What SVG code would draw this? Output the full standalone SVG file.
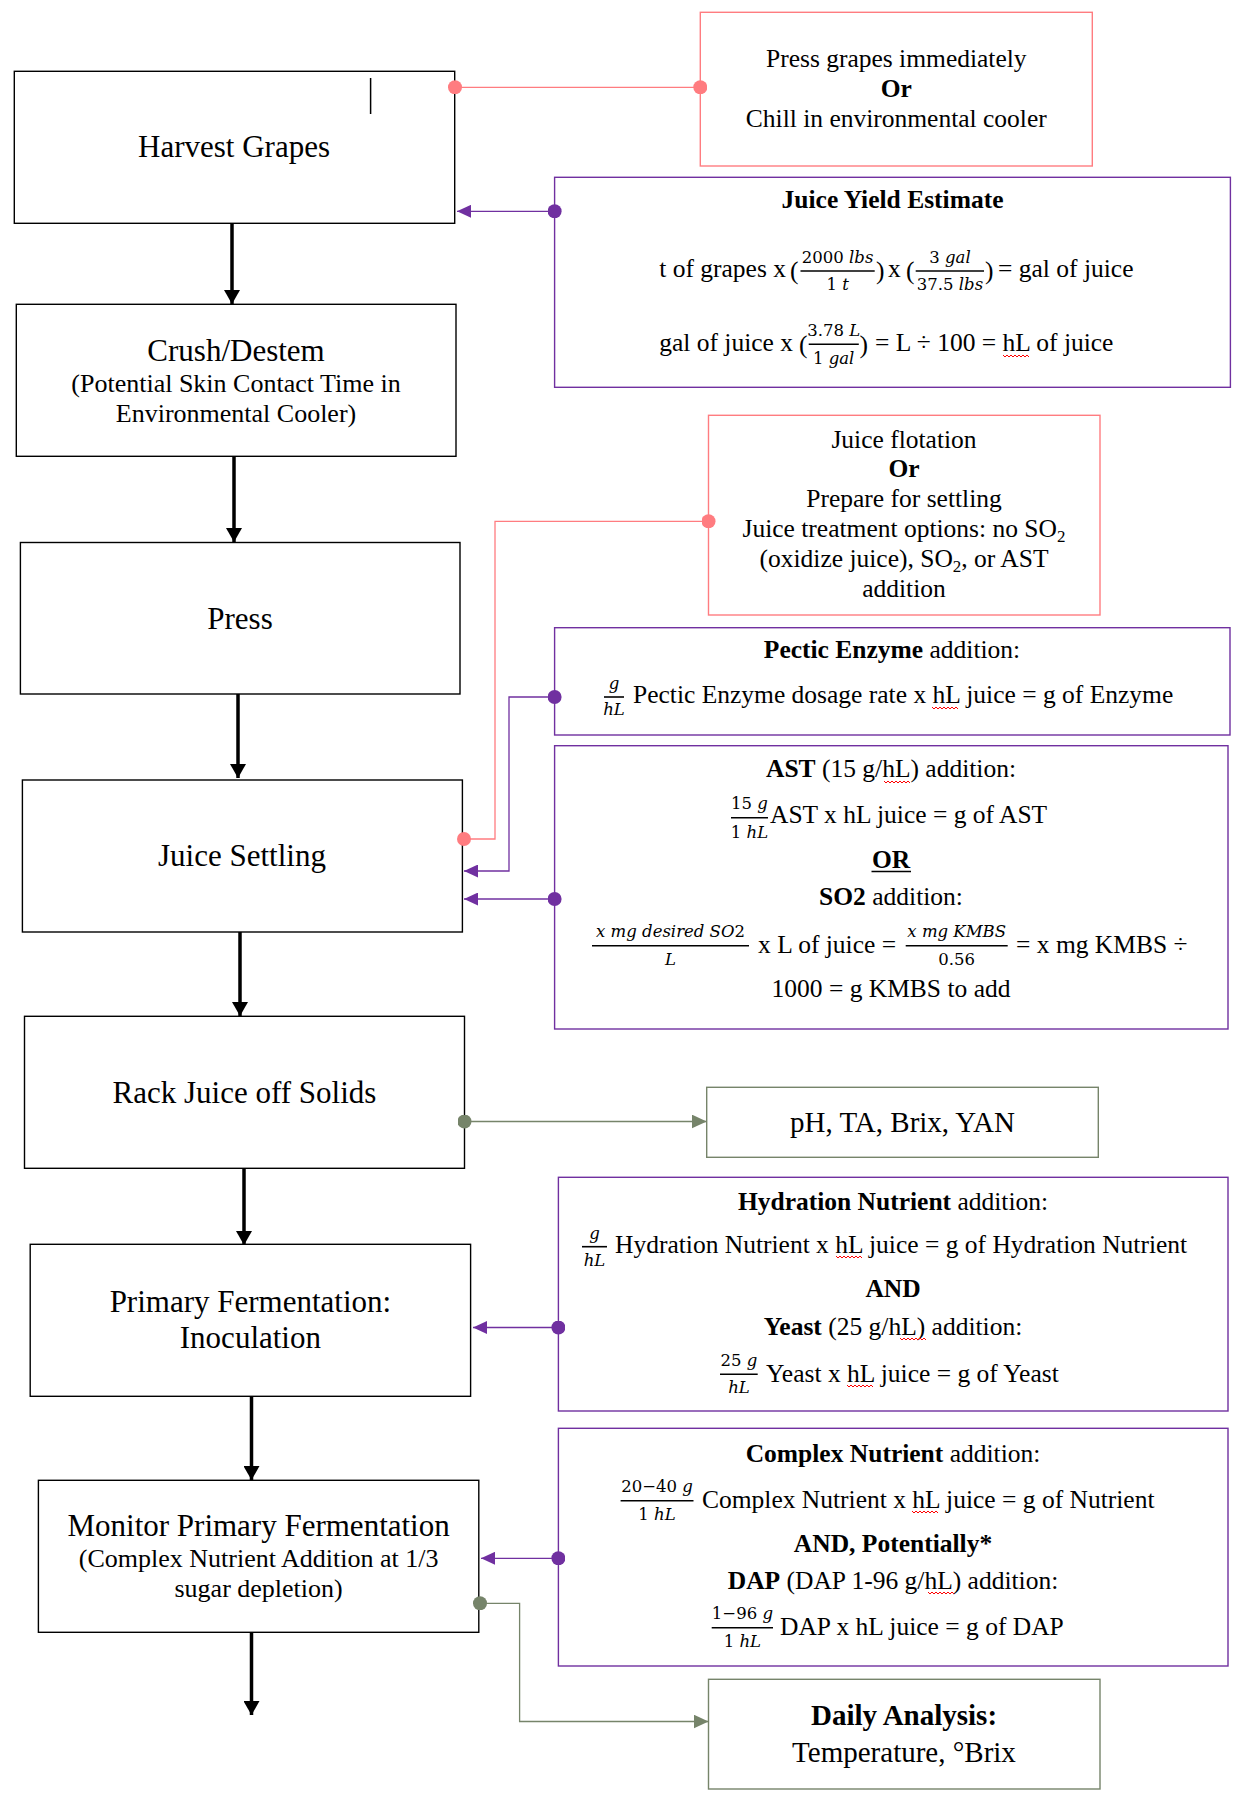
<svg xmlns="http://www.w3.org/2000/svg" width="1254" height="1802" viewBox="0 0 1254 1802">
<defs>
<style>
text{font-family:"Liberation Serif","Times New Roman",serif;fill:#000}
.ti{font-size:31px;text-anchor:middle}
.st{font-size:26px;text-anchor:middle}
.bd{font-size:25.5px}
.mid{text-anchor:middle}
.bo{font-weight:bold}
.m{font-family:"DejaVu Serif",serif;font-size:16.5px;font-style:italic;text-anchor:middle}
.n{font-style:normal}
.node{fill:#fff;stroke:#000;stroke-width:1.4}
.pk{fill:#fff;stroke:#FF7C80;stroke-width:1.4}
.pu{fill:#fff;stroke:#7030A0;stroke-width:1.4}
.gr{fill:#fff;stroke:#76846A;stroke-width:1.4}
.fl{stroke:#000;stroke-width:1.6}
.sq{fill:none;stroke:#FF0000;stroke-width:1}
.flow{stroke:#000;stroke-width:3.5;fill:none}
.cp{stroke:#FF7C80;stroke-width:1.3;fill:none}
.cu{stroke:#7030A0;stroke-width:1.3;fill:none}
.cg{stroke:#76846A;stroke-width:1.3;fill:none}
</style>
<marker id="ab" markerUnits="userSpaceOnUse" markerWidth="15" markerHeight="16" viewBox="0 0 15 16" refX="14" refY="8" orient="auto"><path d="M0,0 L14,8 L0,16 Z" fill="#000"/></marker>
<marker id="au" markerUnits="userSpaceOnUse" markerWidth="14" markerHeight="13" viewBox="0 0 14 13" refX="14" refY="6.5" orient="auto"><path d="M0,0 L14,6.5 L0,13 Z" fill="#7030A0"/></marker>
<marker id="ag" markerUnits="userSpaceOnUse" markerWidth="15" markerHeight="14" viewBox="0 0 15 14" refX="15" refY="7" orient="auto"><path d="M0,0 L15,7 L0,14 Z" fill="#76846A"/></marker>
<marker id="dp" markerUnits="userSpaceOnUse" markerWidth="14" markerHeight="14" viewBox="0 0 14 14" refX="7" refY="7"><circle cx="7" cy="7" r="7" fill="#FF7C80"/></marker>
<marker id="du" markerUnits="userSpaceOnUse" markerWidth="14" markerHeight="14" viewBox="0 0 14 14" refX="7" refY="7"><circle cx="7" cy="7" r="7" fill="#7030A0"/></marker>
<marker id="dg" markerUnits="userSpaceOnUse" markerWidth="14" markerHeight="14" viewBox="0 0 14 14" refX="7" refY="7"><circle cx="7" cy="7" r="7" fill="#76846A"/></marker>
<path id="sqg" class="sq" d="M0,0 l2,2 l2,-2 l2,2 l2,-2 l2,2 l2,-2 l2,2 l2,-2 l2,2 l2,-2 l2,2 l2,-2 l2,2"/>
</defs>

<g id="harvest">
<rect class="node" x="14.3" y="71.3" width="440.4" height="152"/>
<line x1="370.6" y1="78" x2="370.6" y2="114" stroke="#000" stroke-width="1.5"/>
<text class="ti" x="234" y="157">Harvest Grapes</text>
</g>
<g id="crush">
<rect class="node" x="16.3" y="304.3" width="439.7" height="152"/>
<text class="ti" x="236" y="361">Crush/Destem</text>
<text class="st" x="236" y="392">(Potential Skin Contact Time in</text>
<text class="st" x="236" y="422">Environmental Cooler)</text>
</g>
<g id="press">
<rect class="node" x="20.4" y="542.5" width="439.6" height="151.5"/>
<text class="ti" x="240" y="629">Press</text>
</g>
<g id="juice-settling">
<rect class="node" x="22.4" y="780" width="440" height="152"/>
<text class="ti" x="242" y="866">Juice Settling</text>
</g>
<g id="rack">
<rect class="node" x="24.5" y="1016.3" width="440" height="152"/>
<text class="ti" x="244.5" y="1103">Rack Juice off Solids</text>
</g>
<g id="primary-fermentation">
<rect class="node" x="30.2" y="1244.3" width="440.4" height="152"/>
<text class="ti" x="250.4" y="1312">Primary Fermentation:</text>
<text class="ti" x="250.4" y="1348">Inoculation</text>
</g>
<g id="monitor">
<rect class="node" x="38.4" y="1480.3" width="440.4" height="152"/>
<text class="ti" x="258.6" y="1536">Monitor Primary Fermentation</text>
<text class="st" x="258.6" y="1567">(Complex Nutrient Addition at 1/3</text>
<text class="st" x="258.6" y="1597">sugar depletion)</text>
</g>

<g id="press-or-chill">
<rect class="pk" x="700.3" y="12.3" width="392" height="153.7"/>
<text class="bd mid" x="896.3" y="67">Press grapes immediately</text>
<text class="bd mid bo" x="896.3" y="97">Or</text>
<text class="bd mid" x="896.3" y="127">Chill in environmental cooler</text>
</g>

<g id="juice-yield">
<rect class="pu" x="554.6" y="177.3" width="675.8" height="210"/>
<text class="bd mid bo" x="892.5" y="208">Juice Yield Estimate</text>
<text class="bd" x="786" y="277" text-anchor="end">t of grapes x</text>
<text class="bd" x="790" y="279" font-size="28">(</text>
<line class="fl" x1="800.5" y1="271" x2="874.7" y2="271"/>
<text class="m" x="837.6" y="263"><tspan class="n">2000 </tspan>lbs</text>
<text class="m" x="837.6" y="290"><tspan class="n">1 </tspan>t</text>
<text class="bd" x="876" y="279" font-size="28">)</text>
<text class="bd" x="888" y="277">x</text>
<text class="bd" x="906" y="279" font-size="28">(</text>
<line class="fl" x1="915.7" y1="271" x2="984" y2="271"/>
<text class="m" x="950" y="263"><tspan class="n">3 </tspan>gal</text>
<text class="m" x="950" y="290"><tspan class="n">37.5 </tspan>lbs</text>
<text class="bd" x="985" y="279" font-size="28">)</text>
<text class="bd" x="998" y="277">= gal of juice</text>
<text class="bd" x="793" y="351" text-anchor="end">gal of juice x</text>
<text class="bd" x="799" y="353" font-size="28">(</text>
<line class="fl" x1="808.7" y1="344.3" x2="858.8" y2="344.3"/>
<text class="m" x="833.7" y="336"><tspan class="n">3.78 </tspan>L</text>
<text class="m" x="833.7" y="364"><tspan class="n">1 </tspan>gal</text>
<text class="bd" x="859.5" y="353" font-size="28">)</text>
<text class="bd" x="875" y="351">= L ÷ 100 = hL of juice</text>
<use href="#sqg" x="1003" y="355"/>
</g>

<g id="flotation-or-settling">
<rect class="pk" x="708.5" y="415.3" width="391.5" height="199.7"/>
<text class="bd mid" x="904" y="448">Juice flotation</text>
<text class="bd mid bo" x="904" y="477">Or</text>
<text class="bd mid" x="904" y="507">Prepare for settling</text>
<text class="bd mid" x="904" y="537">Juice treatment options: no SO<tspan font-size="17" dy="5">2</tspan></text>
<text class="bd mid" x="904" y="567">(oxidize juice), SO<tspan font-size="17" dy="5">2</tspan><tspan dy="-5">, or AST</tspan></text>
<text class="bd mid" x="904" y="597">addition</text>
</g>

<g id="pectic-enzyme">
<rect class="pu" x="554.6" y="627.7" width="675.4" height="107.3"/>
<text class="bd mid" x="892" y="658"><tspan class="bo">Pectic Enzyme</tspan> addition:</text>
<line class="fl" x1="604" y1="697" x2="624" y2="697"/>
<text class="m" x="614" y="689">g</text>
<text class="m" x="614" y="715">hL</text>
<text class="bd" x="633" y="703">Pectic Enzyme dosage rate x hL juice = g of Enzyme</text>
<use href="#sqg" x="932" y="707"/>
</g>

<g id="ast-so2">
<rect class="pu" x="554.6" y="745.7" width="673.4" height="283.3"/>
<text class="bd mid" x="891" y="777"><tspan class="bo">AST</tspan> (15 g/hL) addition:</text>
<use href="#sqg" x="884" y="781"/>
<line class="fl" x1="731" y1="817.7" x2="768" y2="817.7"/>
<text class="m" x="749.5" y="809"><tspan class="n">15 </tspan>g</text>
<text class="m" x="749.5" y="838"><tspan class="n">1 </tspan>hL</text>
<text class="bd" x="770" y="823">AST x hL juice = g of AST</text>
<text class="bd mid bo" x="891" y="868">OR</text>
<line x1="871.5" y1="871.5" x2="911" y2="871.5" stroke="#000" stroke-width="1.5"/>
<text class="bd mid" x="891" y="905"><tspan class="bo">SO2</tspan> addition:</text>
<line class="fl" x1="592" y1="945.7" x2="749" y2="945.7"/>
<text class="m" x="670.5" y="937">x mg desired SO<tspan class="n">2</tspan></text>
<text class="m" x="670.5" y="965">L</text>
<text class="bd" x="758" y="953">x L of juice =</text>
<line class="fl" x1="905.7" y1="945.7" x2="1007.7" y2="945.7"/>
<text class="m" x="956.7" y="937">x mg KMBS</text>
<text class="m" x="956.7" y="965"><tspan class="n">0.56</tspan></text>
<text class="bd" x="1016" y="953">= x mg KMBS ÷</text>
<text class="bd mid" x="891" y="997">1000 = g KMBS to add</text>
</g>

<g id="ph-ta-brix-yan">
<rect class="gr" x="706.7" y="1087.3" width="391.6" height="70"/>
<text class="mid" x="902.5" y="1132" font-size="29">pH, TA, Brix, YAN</text>
</g>

<g id="hydration-yeast">
<rect class="pu" x="558.4" y="1177.3" width="669.6" height="233.7"/>
<text class="bd mid" x="893" y="1210"><tspan class="bo">Hydration Nutrient</tspan> addition:</text>
<line class="fl" x1="582" y1="1246.7" x2="607" y2="1246.7"/>
<text class="m" x="594.5" y="1239">g</text>
<text class="m" x="594.5" y="1266">hL</text>
<text class="bd" x="615" y="1253">Hydration Nutrient x hL juice = g of Hydration Nutrient</text>
<use href="#sqg" x="836" y="1256"/>
<text class="bd mid bo" x="893" y="1297">AND</text>
<text class="bd mid" x="893" y="1335"><tspan class="bo">Yeast</tspan> (25 g/hL) addition:</text>
<use href="#sqg" x="900" y="1338"/>
<line class="fl" x1="720" y1="1374.3" x2="757.7" y2="1374.3"/>
<text class="m" x="739" y="1366"><tspan class="n">25 </tspan>g</text>
<text class="m" x="739" y="1393">hL</text>
<text class="bd" x="766" y="1382">Yeast x hL juice = g of Yeast</text>
<use href="#sqg" x="847" y="1385"/>
</g>

<g id="complex-dap">
<rect class="pu" x="558.4" y="1428.3" width="669.6" height="237.7"/>
<text class="bd mid" x="893" y="1462"><tspan class="bo">Complex Nutrient</tspan> addition:</text>
<line class="fl" x1="620.6" y1="1500.7" x2="693.5" y2="1500.7"/>
<text class="m" x="657" y="1492"><tspan class="n">20−40 </tspan>g</text>
<text class="m" x="657" y="1520"><tspan class="n">1 </tspan>hL</text>
<text class="bd" x="702" y="1508">Complex Nutrient x hL juice = g of Nutrient</text>
<use href="#sqg" x="912" y="1511"/>
<text class="bd mid bo" x="893" y="1552">AND, Potentially*</text>
<text class="bd mid" x="893" y="1589"><tspan class="bo">DAP</tspan> (DAP 1-96 g/hL) addition:</text>
<use href="#sqg" x="928" y="1592"/>
<line class="fl" x1="711.7" y1="1627.7" x2="773" y2="1627.7"/>
<text class="m" x="742.4" y="1619"><tspan class="n">1−96 </tspan>g</text>
<text class="m" x="742.4" y="1647"><tspan class="n">1 </tspan>hL</text>
<text class="bd" x="780" y="1635">DAP x hL juice = g of DAP</text>
</g>

<g id="daily-analysis">
<rect class="gr" x="708.5" y="1679.3" width="391.5" height="109.7"/>
<text class="mid bo" x="904" y="1725" font-size="29">Daily Analysis:</text>
<text class="mid" x="904" y="1762" font-size="29">Temperature, °Brix</text>
</g>

<g id="connectors">
<path class="flow" marker-end="url(#ab)" d="M232,223 V304"/>
<path class="flow" marker-end="url(#ab)" d="M234,456 V542"/>
<path class="flow" marker-end="url(#ab)" d="M238,694 V778"/>
<path class="flow" marker-end="url(#ab)" d="M240,932 V1016"/>
<path class="flow" marker-end="url(#ab)" d="M244,1168 V1245"/>
<path class="flow" marker-end="url(#ab)" d="M251.5,1396 V1480"/>
<path class="flow" marker-end="url(#ab)" d="M251.5,1632 V1715"/>
<path class="cp" marker-start="url(#dp)" marker-end="url(#dp)" d="M455,87.3 H700.3"/>
<path class="cp" marker-start="url(#dp)" marker-end="url(#dp)" d="M464,839 H495 V521.3 H708.5"/>
<path class="cu" marker-start="url(#du)" marker-end="url(#au)" d="M554.6,211.3 H457"/>
<path class="cu" marker-start="url(#du)" marker-end="url(#au)" d="M554.6,697 H509 V871 H464"/>
<path class="cu" marker-start="url(#du)" marker-end="url(#au)" d="M554.6,899 H464"/>
<path class="cu" marker-start="url(#du)" marker-end="url(#au)" d="M558.4,1327.5 H473"/>
<path class="cu" marker-start="url(#du)" marker-end="url(#au)" d="M558.4,1558.3 H481"/>
<path class="cg" marker-start="url(#dg)" marker-end="url(#ag)" d="M464.5,1121.5 H706.7"/>
<path class="cg" marker-start="url(#dg)" marker-end="url(#ag)" d="M480,1603.3 H519.6 V1721.5 H708.5"/>
</g>
</svg>
